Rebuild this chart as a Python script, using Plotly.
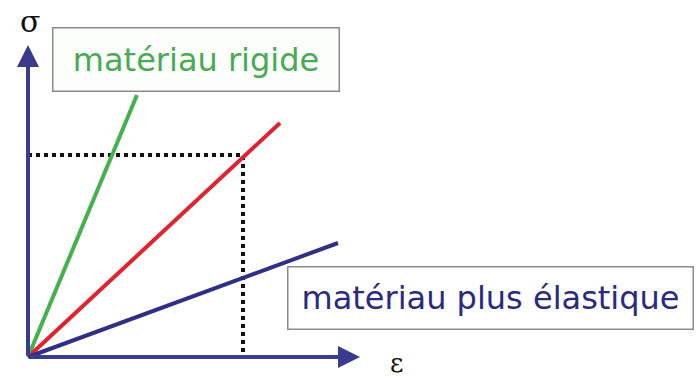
import plotly.graph_objects as go

# Values (arbitrary units, origin at the axes corner)
materials = ["matériau rigide", "matériau intermédiaire", "matériau plus élastique"]
end_strain = [109, 252, 310]
end_stress = [262, 234, 114]
colors = ["#46b04f", "#e0242f", "#2f2f86"]

ref_strain = 215   # dotted vertical
ref_stress = 202   # dotted horizontal

axis_color = "#3a3a8e"

fig = go.Figure()

# dotted guide lines
fig.add_trace(go.Scatter(x=[0, ref_strain, ref_strain], y=[ref_stress, ref_stress, 5],
                         mode="lines", line=dict(color="#111111", width=4, dash="dot"),
                         hoverinfo="skip", showlegend=False))

for name, ex, ey, c in zip(materials, end_strain, end_stress, colors):
    fig.add_trace(go.Scatter(x=[0, ex], y=[0, ey], mode="lines", name=name,
                             line=dict(color=c, width=4), showlegend=False))

annotations = [
    # axes arrows
    dict(x=0, y=312, ax=0, ay=0, xref="x", yref="y", axref="x", ayref="y",
         showarrow=True, arrowhead=2, arrowsize=1.1, arrowwidth=4, arrowcolor=axis_color, text=""),
    dict(x=332, y=0, ax=0, ay=0, xref="x", yref="y", axref="x", ayref="y",
         showarrow=True, arrowhead=2, arrowsize=1.1, arrowwidth=4, arrowcolor=axis_color, text=""),
    # axis symbols
    dict(x=2, y=336, xref="x", yref="y", text="σ", showarrow=False,
         font=dict(family="DejaVu Serif", size=30, color="#111111")),
    dict(x=368, y=-6, xref="x", yref="y", text="ε", showarrow=False,
         font=dict(family="DejaVu Serif", size=26, color="#111111"),
         height=24, valign="middle"),
    # labels
    dict(x=168, y=298, xref="x", yref="y", text="matériau rigide", showarrow=False,
         font=dict(family="DejaVu Sans", size=32, color="#4aa955"),
         bordercolor="#8a8a8a", borderwidth=1.5, borderpad=0, bgcolor="#fbfefb",
         width=285, height=62),
    dict(x=462, y=59, xref="x", yref="y", text="matériau plus élastique", showarrow=False,
         font=dict(family="DejaVu Sans", size=32, color="#2a2a80"),
         bordercolor="#8a8a8a", borderwidth=1.5, borderpad=0, bgcolor="#ffffff",
         width=404, height=61),
]

fig.update_layout(
    width=696, height=380,
    margin=dict(l=0, r=0, t=0, b=0),
    paper_bgcolor="white", plot_bgcolor="white",
    xaxis=dict(range=[-28, 668], visible=False, fixedrange=True),
    yaxis=dict(range=[-23, 357], visible=False, fixedrange=True),
    annotations=annotations,
)

fig.write_html("out.html", config={"displayModeBar": False},
               post_script="document.body.style.margin='0';document.body.style.overflow='hidden';")
